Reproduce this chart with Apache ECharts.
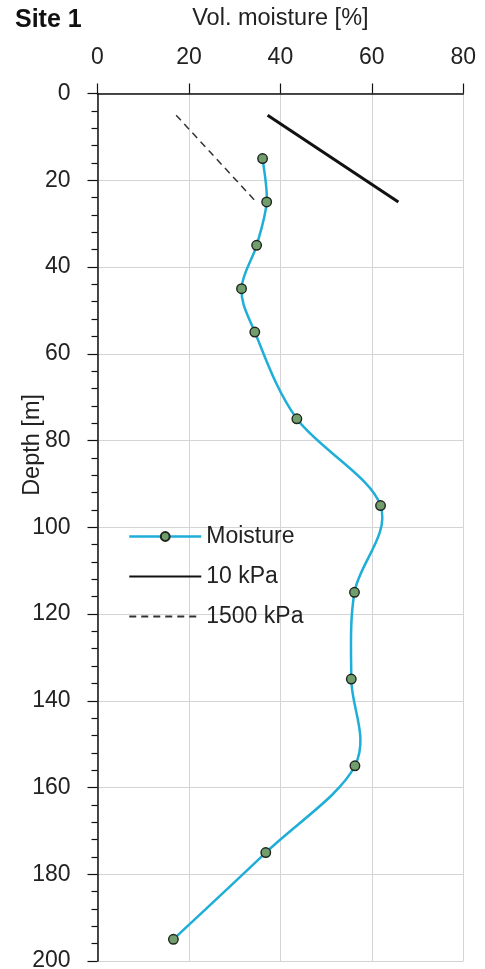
<!DOCTYPE html>
<html>
<head>
<meta charset="utf-8">
<script src="https://cdn.jsdelivr.net/npm/echarts@6/dist/echarts.min.js"></script>
<style>
html,body{margin:0;padding:0;background:#fff;}
#chart{width:485px;height:969px;}
</style>
</head>
<body>
<div id="chart"></div>
<script>
// Data
var depths = [15, 25, 35, 45, 55, 75, 95, 115, 135, 155, 175, 195];
var moisture = [36.1, 37.0, 34.8, 31.5, 34.4, 43.6, 61.9, 56.2, 55.5, 56.3, 36.8, 16.6];
var kpa10Depths = [5, 25];
var kpa10Values = [37.2, 65.8];
var kpa1500Depths = [5, 25];
var kpa1500Values = [17.2, 34.7];
var xTicks = [0, 20, 40, 60, 80];
var yTicks = [0, 20, 40, 60, 80, 100, 120, 140, 160, 180, 200];

function pairs(xs, ys) { return xs.map(function (v, i) { return [v, ys[i]]; }); }

var font = '"Liberation Sans", Arial, sans-serif';
var curveColor = '#1eaed8';
var hidden = { color: 'rgba(0,0,0,0)', borderColor: 'rgba(0,0,0,0)', borderWidth: 0 };
var moisturePairs = pairs(moisture, depths);

// Smoothed (spreadsheet-style) curve segment between item i and i+1,
// positioned through the chart's own axes via api.coord.
function renderSegment(params, api) {
  var i = params.dataIndex;
  var n = moisturePairs.length;
  if (i >= n - 1) return null;
  var p = function (k) {
    k = Math.max(0, Math.min(n - 1, k));
    return api.coord(moisturePairs[k]);
  };
  var p0 = p(i - 1), p1 = p(i), p2 = p(i + 1), p3 = p(i + 2);
  var t = 1 / 6;
  return {
    type: 'bezierCurve',
    shape: {
      x1: p1[0], y1: p1[1], x2: p2[0], y2: p2[1],
      cpx1: p1[0] + (p2[0] - p0[0]) * t, cpy1: p1[1] + (p2[1] - p0[1]) * t,
      cpx2: p2[0] - (p3[0] - p1[0]) * t, cpy2: p2[1] - (p3[1] - p1[1]) * t
    },
    style: { stroke: curveColor, lineWidth: 2.5, fill: 'none' },
    silent: true
  };
}

var chart = echarts.init(document.getElementById('chart'));
chart.setOption({
  animation: false,
  backgroundColor: '#ffffff',
  title: {
    text: 'Site 1', left: 10, top: 3,
    textStyle: { fontFamily: font, fontSize: 25, fontWeight: 'bold', color: '#111' }
  },
  graphic: [{
    type: 'text', left: 21, top: 394, rotation: Math.PI / 2,
    style: { text: 'Depth [m]', font: '23.5px ' + font, fill: '#222' }
  }],
  grid: { left: 97.5, right: 21.7, top: 93.5, bottom: 8, containLabel: false, outerBoundsMode: 'none' },
  legend: {
    orient: 'vertical', left: 123, top: 520,
    itemWidth: 72, itemHeight: 11, itemGap: 17,
    textStyle: { fontFamily: font, fontSize: 23, color: '#222' },
    data: [
      { name: 'Moisture', lineStyle: { color: curveColor, width: 2.5, opacity: 1 } },
      { name: '10 kPa', itemStyle: hidden },
      { name: '1500 kPa', itemStyle: hidden }
    ]
  },
  xAxis: {
    type: 'value', position: 'top', min: 0, max: 80, interval: 20,
    name: 'Vol. moisture [%]', nameLocation: 'middle', nameGap: 63,
    nameTextStyle: { fontFamily: font, fontSize: 23.5, color: '#222' },
    axisLine: { show: true, lineStyle: { color: '#111', width: 1.5 } },
    axisTick: { show: true, inside: false, length: 10, lineStyle: { color: '#111', width: 1.2 } },
    axisLabel: { fontFamily: font, fontSize: 23, color: '#222', margin: 24,
      formatter: function (v) { return xTicks.indexOf(v) >= 0 ? String(v) : ''; } },
    splitLine: { show: true, lineStyle: { color: '#d4d4d4', width: 1 } }
  },
  yAxis: {
    type: 'value', inverse: true, min: 0, max: 200, interval: 20,
    axisLine: { show: true, onZero: false, lineStyle: { color: '#111', width: 1.5 } },
    axisTick: { show: true, inside: false, length: 10, lineStyle: { color: '#111', width: 1.2 } },
    minorTick: { show: true, splitNumber: 5, length: 6, lineStyle: { color: '#111', width: 1.2 } },
    axisLabel: { fontFamily: font, fontSize: 23, color: '#222', margin: 27,
      formatter: function (v) { return yTicks.indexOf(v) >= 0 ? String(v) : ''; } },
    splitLine: { show: true, lineStyle: { color: '#d4d4d4', width: 1 } }
  },
  series: [
    {
      name: 'Moisture curve', type: 'custom',
      renderItem: renderSegment,
      data: moisturePairs,
      encode: { x: 0, y: 1 },
      z: 2
    },
    {
      name: 'Moisture', type: 'line',
      data: moisturePairs,
      symbol: 'circle', symbolSize: 9.5, showSymbol: true,
      lineStyle: { color: curveColor, width: 2.5, opacity: 0 },
      itemStyle: { color: '#719e6c', borderColor: '#1e261e', borderWidth: 1.4 },
      z: 3
    },
    {
      name: '10 kPa', type: 'line', symbol: 'none',
      data: pairs(kpa10Values, kpa10Depths),
      lineStyle: { color: '#111', width: 3 },
      itemStyle: { color: '#111' }
    },
    {
      name: '1500 kPa', type: 'line', symbol: 'none',
      data: pairs(kpa1500Values, kpa1500Depths),
      lineStyle: { color: '#333', width: 1.5, type: [7, 5] },
      itemStyle: { color: '#333' }
    }
  ]
});
</script>
</body>
</html>
